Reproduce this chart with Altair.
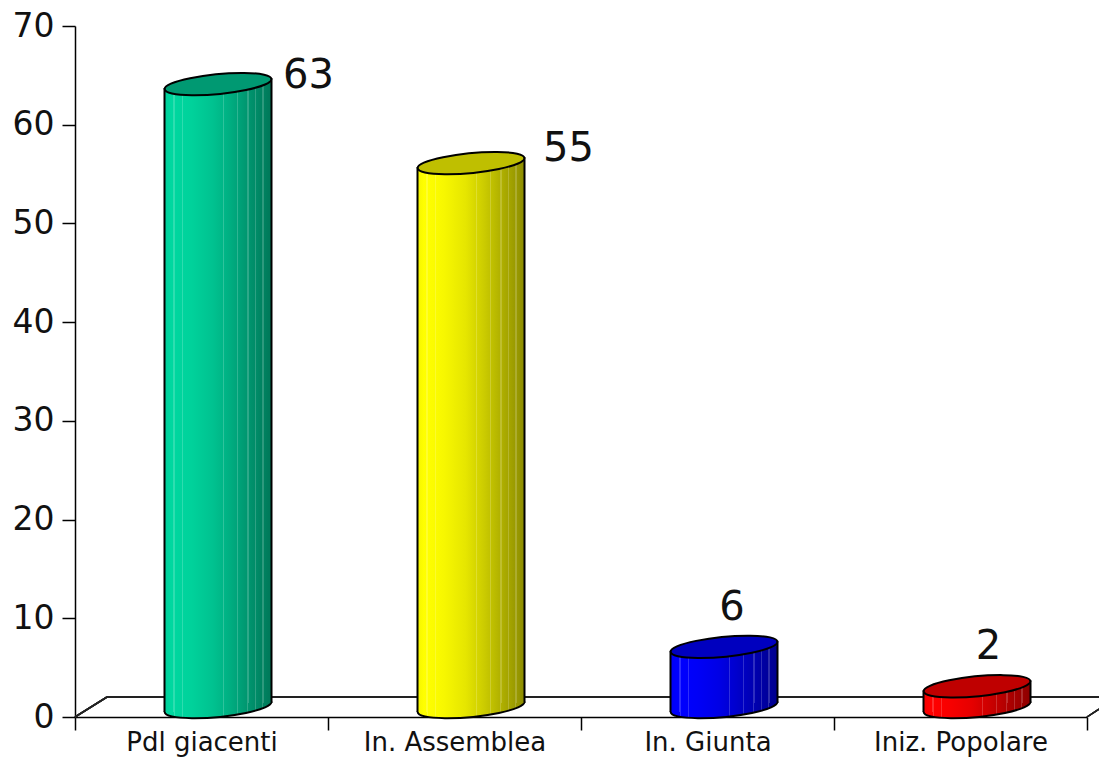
import altair as alt
import pandas as pd

categories = ["Pdl giacenti", "In. Assemblea", "In. Giunta", "Iniz. Popolare"]
values = [63, 55, 6, 2]
base_colors = [(0, 216, 160), (255, 255, 0), (0, 0, 255), (255, 0, 0)]
top_factor = [0.71, 0.75, 0.75, 0.75]

df = pd.DataFrame({"cat": categories, "v": values})

BAR_W = 107.0
SHIFT = 16.5
ELLIPSE = "M-.995,.096A1,.18,-5.5,1,1,.995,-.096A1,.18,-5.5,1,1,-.995,.096Z"

SHADES = [(0.0, 0.96), (0.06, 1.0), (0.25, 0.97), (0.45, 0.9), (0.62, 0.8), (0.8, 0.68), (1.0, 0.55)]
STRIPES = [0.09, 0.17, 0.55, 0.68, 0.78, 0.85, 0.92]


def hexc(rgb, f, white=0.0):
    c = [min(255, c * f) for c in rgb]
    c = [int(round(x + (255 - x) * white)) for x in c]
    return "#%02x%02x%02x" % tuple(c)


def factor(p):
    for (a, fa), (b, fb) in zip(SHADES, SHADES[1:]):
        if a <= p <= b:
            return fa + (fb - fa) * (p - a) / (b - a)
    return SHADES[-1][1]


def gradient(rgb, lo=0.0, hi=1.0):
    pos = sorted(set([p for p, _ in SHADES if lo <= p <= hi] + [lo, hi]))
    stops = []
    events = [(p, False) for p in pos]
    for s in STRIPES:
        if lo < s < hi - 0.01:
            events += [(s, True)]
    for p, is_stripe in sorted(events):
        off = (p - lo) / (hi - lo)
        if is_stripe:
            w = 0.006 / (hi - lo)
            stops += [
                {"offset": max(0, off - w), "color": hexc(rgb, factor(p))},
                {"offset": max(0, off - w), "color": hexc(rgb, factor(p), 0.18)},
                {"offset": min(1, off + w), "color": hexc(rgb, factor(p), 0.18)},
                {"offset": min(1, off + w), "color": hexc(rgb, factor(p))},
            ]
        else:
            stops.append({"offset": off, "color": hexc(rgb, factor(p))})
    return alt.Gradient(gradient="linear", x1=0, x2=1, y1=0, y2=0, stops=stops)


x = alt.X(
    "cat:N", sort=categories, title=None,
    scale=alt.Scale(paddingInner=0, paddingOuter=0),
    axis=alt.Axis(labelAngle=0, tickBand="extent", tickSize=13, tickColor="#000", domainColor="#000",
                  tickWidth=1.5, domainWidth=1.5, labelFont="DejaVu Sans", labelFontSize=26,
                  labelColor="#111", labelPadding=20, labelBaseline="alphabetic", labelOverlap=False,
                  labelLimit=400),
)
y = alt.Y(
    "v:Q", title=None, stack=None, scale=alt.Scale(domain=[0, 70]),
    axis=alt.Axis(values=list(range(0, 71, 10)), tickSize=13, tickColor="#000", domainColor="#000",
                  tickWidth=1.5, domainWidth=1.5, grid=False, labelFont="DejaVu Sans", labelFontSize=33,
                  labelColor="#111", labelPadding=8),
)

PW, PH = 1012, 691
floor_segments = [
    (0, PH, 32, PH - 20),
    (32, PH - 20, PW + 12, PH - 20),
    (PW, PH, PW + 12, PH - 8),
]
layers = [
    alt.Chart(df).mark_rule(color="#222", strokeWidth=1.5, clip=False).encode(
        x=alt.value(x0), y=alt.value(y0), x2=alt.value(x1), y2=alt.value(y1)
    )
    for x0, y0, x1, y1 in floor_segments
]
# anchor for the axes
layers.append(alt.Chart(df).mark_point(opacity=0).encode(x=x, y=y))

SW = 2
for i, cat in enumerate(categories):
    rgb = base_colors[i]
    sub = alt.Chart(df).transform_filter(alt.datum.cat == cat)
    bx = alt.X("cat:N", sort=categories)
    by = alt.Y("v:Q", stack=None)
    # bottom ellipse
    layers.append(sub.mark_point(
        shape=ELLIPSE, size=BAR_W ** 2, filled=True, fill=gradient(rgb), fillOpacity=1, opacity=1,
        stroke="#000", strokeWidth=SW, xOffset=SHIFT, yOffset=-10,
    ).encode(x=bx, y=alt.Y(datum=0)))
    # left / right halves of the body
    layers.append(sub.mark_bar(
        width=BAR_W / 2, xOffset=SHIFT - BAR_W / 4, fill=gradient(rgb, 0, 0.5), yOffset=-7, y2Offset=-5,
    ).encode(x=bx, y=by, y2=alt.Y2(datum=0)))
    layers.append(sub.mark_bar(
        width=BAR_W / 2, xOffset=SHIFT + BAR_W / 4, fill=gradient(rgb, 0.5, 1), yOffset=-17, y2Offset=-14,
    ).encode(x=bx, y=by, y2=alt.Y2(datum=0)))
    # edges
    layers.append(sub.mark_rule(color="#000", strokeWidth=SW, xOffset=SHIFT - BAR_W / 2, yOffset=-7, y2Offset=-5)
                  .encode(x=bx, y=by, y2=alt.Y2(datum=0)))
    layers.append(sub.mark_rule(color="#000", strokeWidth=SW, xOffset=SHIFT + BAR_W / 2, yOffset=-17, y2Offset=-14)
                  .encode(x=bx, y=by, y2=alt.Y2(datum=0)))
    # top ellipse
    layers.append(sub.mark_point(
        shape=ELLIPSE, size=BAR_W ** 2, filled=True, fill=hexc(rgb, top_factor[i]), fillOpacity=1, opacity=1,
        stroke="#000", strokeWidth=SW, xOffset=SHIFT, yOffset=-11,
    ).encode(x=bx, y=by))

label_offsets = [(107, -19), (114, -25), (24.5, -50), (28, -50)]
for cat, (dx, dy) in zip(categories, label_offsets):
    layers.append(alt.Chart(df).transform_filter(alt.datum.cat == cat).mark_text(
        font="DejaVu Sans", fontSize=40, color="#111", dx=dx, dy=dy, baseline="middle", align="center",
    ).encode(x=alt.X("cat:N", sort=categories), y=alt.Y("v:Q", stack=None), text="v:Q"))

chart = alt.layer(*layers).properties(
    width=PW, height=PH,
    autosize=alt.AutoSizeParams(type="none"),
    padding={"left": 67, "top": 18, "right": 12, "bottom": 40},
    background="white",
).configure_view(stroke=None)

chart.save("out.html", embed_options={"renderer": "svg", "actions": False})
